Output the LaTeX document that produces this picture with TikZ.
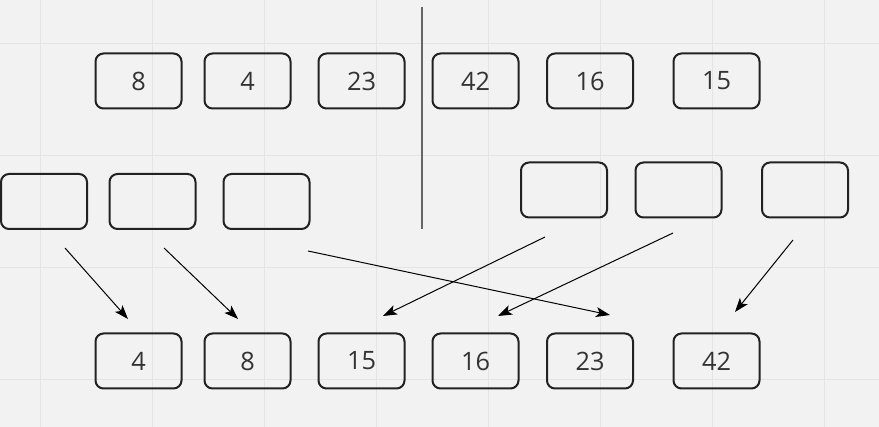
\documentclass[tikz,border=0pt]{standalone}
\usepackage{fontspec}
\setmainfont{Open Sans}
\usepackage{tikz}
\usetikzlibrary{arrows.meta}
\definecolor{paper}{HTML}{F2F2F2}
\definecolor{gridline}{HTML}{E4E4E4}
\definecolor{boxline}{HTML}{222222}
\definecolor{splitline}{HTML}{666666}
\definecolor{numtext}{HTML}{333333}

\begin{document}
\begin{tikzpicture}[x=0.75pt,y=-0.75pt]
    % canvas and grid
    \fill[paper] (0,0) rectangle (879,427);
    \useasboundingbox (0,0) rectangle (879,427);
    \foreach \gx in {40,152,264,376,488,600,712,824}
      \draw[gridline,line width=0.75pt] (\gx,0) -- (\gx,427);
    \foreach \gy in {44,156,268,380}
      \draw[gridline,line width=0.75pt] (0,\gy) -- (879,\gy);

    \begin{scope}[every node/.style={rectangle,rounded corners=6pt,draw=boxline,
        line width=1.5pt,minimum width=64.5pt,minimum height=41.25pt,
        text=numtext,font=\fontsize{19}{22}\selectfont,inner sep=0pt}]
      % input array
      \node (in1) at (138.5,81) {\raisebox{-2pt}{8}};
      \node (in2) at (247.5,81) {\raisebox{-2pt}{4}};
      \node (in3) at (361.5,81) {23};
      \node (in4) at (475.5,81) {42};
      \node (in5) at (590,81) {16};
      \node (in6) at (716.5,81) {15};

      % left and right halves
      \node (lh1) at (44,201.5) {};
      \node (lh2) at (152.5,201.5) {};
      \node (lh3) at (266.5,201.5) {};
      \node (rh1) at (564,190) {};
      \node (rh2) at (678.5,190) {};
      \node (rh3) at (805,190) {};

      % merged array
      \node (out1) at (138.5,361) {4};
      \node (out2) at (247.5,361) {\raisebox{-2pt}{8}};
      \node (out3) at (361.5,361) {15};
      \node (out4) at (475.5,361) {16};
      \node (out5) at (590,361) {23};
      \node (out6) at (716.5,361) {42};
    \end{scope}

    % split
    \coordinate (splittop) at (422,7);
    \coordinate (splitbot) at (422,229);
    \draw[splitline,line width=1.5pt] (splittop) -- (splitbot);

    % arrow ends
    \coordinate (la) at (65,248);   \coordinate (lb) at (128,319);
    \coordinate (ma) at (164,248);  \coordinate (mb) at (238,319);
    \coordinate (na) at (308,251);  \coordinate (nb) at (610,315);
    \coordinate (ra) at (545,237);  \coordinate (rb) at (383,316);
    \coordinate (sa) at (673,233);  \coordinate (sb) at (498,316);
    \coordinate (ta) at (793,240);  \coordinate (tb) at (735,312);

    \begin{scope}[>={Stealth[length=10.5pt,width=7.5pt,inset=2.5pt]},
        every edge/.style={draw=black,line width=0.75pt}]
      \path [->] (la) edge (lb);
      \path [->] (ma) edge (mb);
      \path [->] (na) edge (nb);
      \path [->] (ra) edge (rb);
      \path [->] (sa) edge (sb);
      \path [->] (ta) edge (tb);
    \end{scope}
  \end{tikzpicture}
\end{document}
